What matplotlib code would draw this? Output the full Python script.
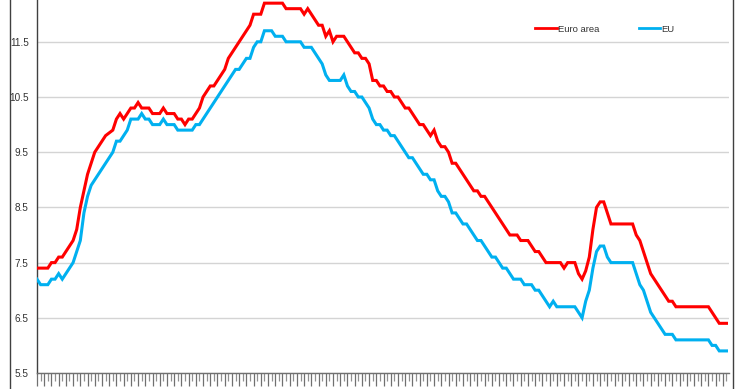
import matplotlib
matplotlib.use("Agg")
import matplotlib.pyplot as plt
from matplotlib.lines import Line2D
import numpy as np

plt.rcParams['font.family'] = ['Liberation Sans', 'DejaVu Sans']

euro_area = [
    7.4, 7.4, 7.4, 7.4, 7.5, 7.5, 7.6, 7.6, 7.7, 7.8,
    7.9, 8.1, 8.5, 8.8, 9.1, 9.3, 9.5, 9.6, 9.7, 9.8,
    9.85, 9.9, 10.1, 10.2, 10.1, 10.2, 10.3, 10.3, 10.4, 10.3,
    10.3, 10.3, 10.2, 10.2, 10.2, 10.3, 10.2, 10.2, 10.2, 10.1,
    10.1, 10.0, 10.1, 10.1, 10.2, 10.3, 10.5, 10.6, 10.7, 10.7,
    10.8, 10.9, 11.0, 11.2, 11.3, 11.4, 11.5, 11.6, 11.7, 11.8,
    12.0, 12.0, 12.0, 12.2, 12.2, 12.2, 12.2, 12.2, 12.2, 12.1,
    12.1, 12.1, 12.1, 12.1, 12.0, 12.1, 12.0, 11.9, 11.8, 11.8,
    11.6, 11.7, 11.5, 11.6, 11.6, 11.6, 11.5, 11.4, 11.3, 11.3,
    11.2, 11.2, 11.1, 10.8, 10.8, 10.7, 10.7, 10.6, 10.6, 10.5,
    10.5, 10.4, 10.3, 10.3, 10.2, 10.1, 10.0, 10.0, 9.9, 9.8,
    9.9, 9.7, 9.6, 9.6, 9.5, 9.3, 9.3, 9.2, 9.1, 9.0,
    8.9, 8.8, 8.8, 8.7, 8.7, 8.6, 8.5, 8.4, 8.3, 8.2,
    8.1, 8.0, 8.0, 8.0, 7.9, 7.9, 7.9, 7.8, 7.7, 7.7,
    7.6, 7.5, 7.5, 7.5, 7.5, 7.5, 7.4, 7.5, 7.5, 7.5,
    7.3, 7.2, 7.35, 7.6, 8.1, 8.5, 8.6, 8.6, 8.4, 8.2,
    8.2, 8.2, 8.2, 8.2, 8.2, 8.2, 8.0, 7.9, 7.7, 7.5,
    7.3, 7.2, 7.1, 7.0, 6.9, 6.8, 6.8, 6.7, 6.7, 6.7,
    6.7, 6.7, 6.7, 6.7, 6.7, 6.7, 6.7, 6.6, 6.5, 6.4,
    6.4, 6.4,
]

eu = [
    7.2, 7.1, 7.1, 7.1, 7.2, 7.2, 7.3, 7.2, 7.3, 7.4,
    7.5, 7.7, 7.9, 8.4, 8.7, 8.9, 9.0, 9.1, 9.2, 9.3,
    9.4, 9.5, 9.7, 9.7, 9.8, 9.9, 10.1, 10.1, 10.1, 10.2,
    10.1, 10.1, 10.0, 10.0, 10.0, 10.1, 10.0, 10.0, 10.0, 9.9,
    9.9, 9.9, 9.9, 9.9, 10.0, 10.0, 10.1, 10.2, 10.3, 10.4,
    10.5, 10.6, 10.7, 10.8, 10.9, 11.0, 11.0, 11.1, 11.2, 11.2,
    11.4, 11.5, 11.5, 11.7, 11.7, 11.7, 11.6, 11.6, 11.6, 11.5,
    11.5, 11.5, 11.5, 11.5, 11.4, 11.4, 11.4, 11.3, 11.2, 11.1,
    10.9, 10.8, 10.8, 10.8, 10.8, 10.9, 10.7, 10.6, 10.6, 10.5,
    10.5, 10.4, 10.3, 10.1, 10.0, 10.0, 9.9, 9.9, 9.8, 9.8,
    9.7, 9.6, 9.5, 9.4, 9.4, 9.3, 9.2, 9.1, 9.1, 9.0,
    9.0, 8.8, 8.7, 8.7, 8.6, 8.4, 8.4, 8.3, 8.2, 8.2,
    8.1, 8.0, 7.9, 7.9, 7.8, 7.7, 7.6, 7.6, 7.5, 7.4,
    7.4, 7.3, 7.2, 7.2, 7.2, 7.1, 7.1, 7.1, 7.0, 7.0,
    6.9, 6.8, 6.7, 6.8, 6.7, 6.7, 6.7, 6.7, 6.7, 6.7,
    6.6, 6.5, 6.8, 7.0, 7.4, 7.7, 7.8, 7.8, 7.6, 7.5,
    7.5, 7.5, 7.5, 7.5, 7.5, 7.5, 7.3, 7.1, 7.0, 6.8,
    6.6, 6.5, 6.4, 6.3, 6.2, 6.2, 6.2, 6.1, 6.1, 6.1,
    6.1, 6.1, 6.1, 6.1, 6.1, 6.1, 6.1, 6.0, 6.0, 5.9,
    5.9, 5.9,
]

y_ticks = [5.5, 6.5, 7.5, 8.5, 9.5, 10.5, 11.5]
y_labels = ["5.5", "6.5", "7.5", "8.5", "9.5", "10.5", "11.5"]
series_names = ["Euro area", "EU"]

fig = plt.figure(figsize=(7.40, 3.89), dpi=100)
ax = fig.add_axes([37/740, 1-373/389, (729-37)/740, 373/389])

x = np.arange(len(euro_area))
ax.plot(x, euro_area, color='#ff0000', lw=2.2, solid_joinstyle='miter', label=series_names[0], zorder=3)
ax.plot(x, eu, color='#00b0f0', lw=2.2, solid_joinstyle='miter', label=series_names[1], zorder=3)

ax.set_xlim(0, 191.7)
ax.set_ylim(5.5, 5.5 + 373/55.2)

ax.set_yticks(y_ticks)
ax.set_yticklabels(y_labels, fontsize=7.2, color='#333333')
ax.tick_params(axis='y', length=0, pad=6)
ax.yaxis.grid(True, color='#d4d4d4', lw=1.0)
ax.set_axisbelow(True)

ax.set_xticks(x[::2])
ax.set_xticks(x[1::2], minor=True)
ax.tick_params(axis='x', which='major', length=9, width=0.9, color='#707070', labelbottom=False)
ax.tick_params(axis='x', which='minor', length=6, width=0.9, color='#909090', labelbottom=False)

for s in ['top', 'right']:
    ax.spines[s].set_visible(False)
ax.spines['left'].set_color('#404040')
ax.spines['bottom'].set_color('#707070')
ax.spines['left'].set_linewidth(1.0)
ax.spines['bottom'].set_linewidth(1.0)

leg = ax.legend(loc='center left', bbox_to_anchor=((535-37)/692, (373-29)/373),
                ncol=2, frameon=False, fontsize=6.8, handlelength=2.3,
                handletextpad=0.1, columnspacing=4.2, borderpad=0, borderaxespad=0)
for t in leg.get_texts():
    t.set_color('#333333')
for h in leg.get_lines():
    h.set_linewidth(2.0)

fig.add_artist(Line2D([9.5/740, 9.5/740], [0, 1], color='#404040', lw=1.0, transform=fig.transFigure))
fig.add_artist(Line2D([733/740, 733/740], [0, 1], color='#404040', lw=1.0, transform=fig.transFigure))

fig.savefig('out.png', dpi=100)
